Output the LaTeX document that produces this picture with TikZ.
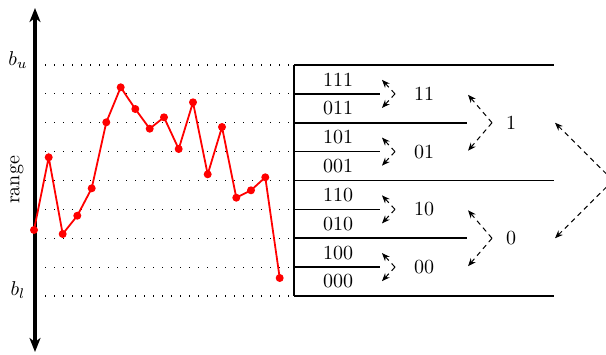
\documentclass[tikz,border=0pt]{standalone}
\usetikzlibrary{arrows.meta}
\begin{document}
\begin{tikzpicture}[x=0.5pt,y=-0.5pt,
  axis/.style={line width=2pt,{Stealth[length=7pt,width=5.5pt,inset=2pt]}-{Stealth[length=7pt,width=5.5pt,inset=2pt]}},
  grid/.style={line width=0.6pt,dash pattern=on 0.6pt off 3.9pt},
  bar/.style={line width=0.8pt},
  series/.style={red,line width=0.9pt},
  pt/.style={circle,fill=red,inner sep=0pt,minimum size=4pt},
  dasharr/.style={line width=0.5pt,dash pattern=on 2.5pt off 2pt,-{Stealth[length=4pt,width=3.2pt]}},
  lab/.style={inner sep=1pt}
]
\useasboundingbox (0,0) rectangle (606,354);
% axis
\coordinate (axtop) at (35,8);
\coordinate (axbot) at (35,352);
\draw[axis] (axbot) -- (axtop);
\node[lab] (bu) at (18,60) {$b_u$};
\node[lab] (bl) at (18,290) {$b_l$};
\node[lab,rotate=90] (range) at (17,180) {range};
% dotted levels
\foreach \i in {0,...,8}{
  \coordinate (gl\i) at (45,{65+28.875*\i});
  \coordinate (gr\i) at (290,{65+28.875*\i});
  \draw[grid] (gl\i) -- (gr\i);
}
% series
\foreach \n/\x/\y in {1/34/230,2/48.7/157.3,3/62.7/234,4/77.3/215.7,5/91.7/188.3,6/106.3/122.3,7/120.7/87.3,8/135.3/109,9/149.7/128.7,10/164/117.3,11/178.7/149,12/193/102.3,13/207.7/174.3,14/222/127,15/236.3/197.7,16/251/190.3,17/265.3/177.3,18/279.7/278}{
  \coordinate (s\n) at (\x,\y);
}
\draw[series] (s1)\foreach \n in {2,...,18}{ -- (s\n)};
\foreach \n in {1,...,18}{ \node[pt] (p\n) at (s\n) {}; }
% partition lines
\foreach \i/\xe in {0/554,1/380,2/467,3/380,4/554,5/380,6/467,7/380,8/554}{
  \coordinate (hl\i) at (294,{65+28.875*\i});
  \coordinate (hr\i) at (\xe,{65+28.875*\i});
  \draw[bar] (hl\i) -- (hr\i);
}
\draw[bar] (hl0) -- (hl8);
% codes
\foreach \t [count=\k from 0] in {111,011,101,001,110,010,100,000}{
  \node[lab] (c\t) at (338,{79.4+28.875*\k}) {\t};
}
% small brackets
\foreach \t/\i in {11/1,01/3,10/5,00/7}{
  \coordinate (a\t) at (395,{65+28.875*\i});
  \coordinate (u\t) at (382,{65+28.875*\i-14});
  \coordinate (d\t) at (382,{65+28.875*\i+14});
  \draw[dasharr] (a\t) -- (u\t);
  \draw[dasharr] (a\t) -- (d\t);
  \node[lab] (l\t) at (424,{65+28.875*\i}) {\t};
}
% medium brackets
\foreach \t/\i in {1/2,0/6}{
  \coordinate (m\t) at (492,{65+28.875*\i});
  \coordinate (mu\t) at (468,{65+28.875*\i-28});
  \coordinate (md\t) at (468,{65+28.875*\i+28});
  \draw[dasharr] (m\t) -- (mu\t);
  \draw[dasharr] (m\t) -- (md\t);
  \node[lab] (k\t) at (511,{65+28.875*\i}) {\t};
}
% big bracket
\coordinate (big) at (613,180.5);
\coordinate (bigu) at (555,122.75);
\coordinate (bigd) at (555,238.25);
\draw[dasharr] (big) -- (bigu);
\draw[dasharr] (big) -- (bigd);
\end{tikzpicture}
\end{document}
